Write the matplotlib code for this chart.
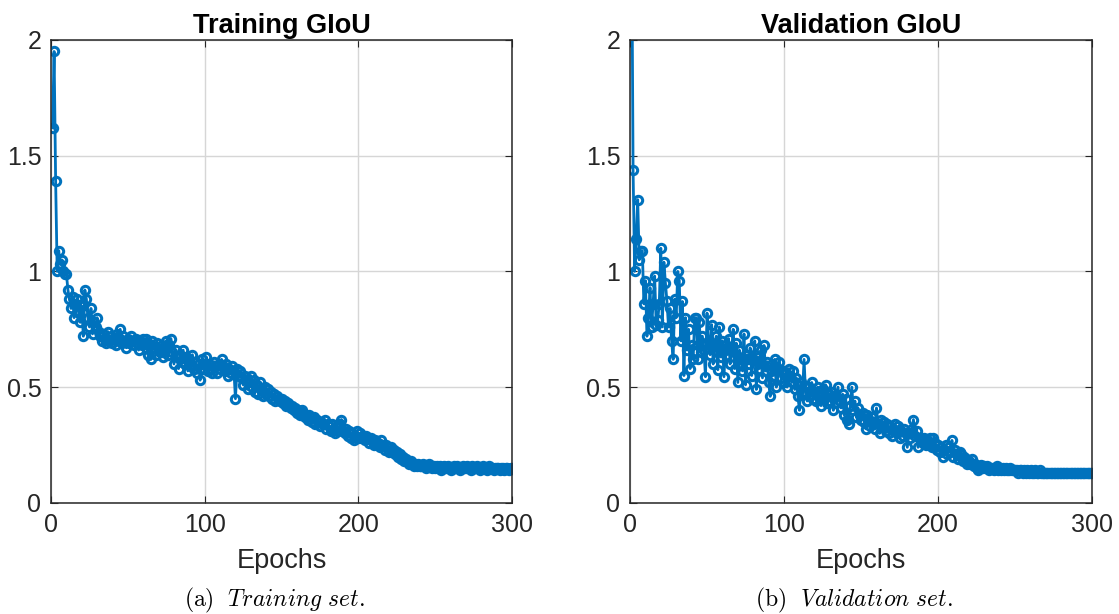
import numpy as np
import matplotlib
matplotlib.use("Agg")
import matplotlib.pyplot as plt

plt.rcParams['font.family'] = ['Liberation Sans', 'DejaVu Sans']
plt.rcParams['mathtext.fontset'] = 'cm'

# --- datos (GIoU por época) ---
train_giou = [
    1.62, 1.95, 1.39, 1.00, 1.09, 1.03, 1.05, 1.00, 0.99, 0.99,
    0.92, 0.88, 0.84, 0.89, 0.80, 0.86, 0.88, 0.82, 0.78, 0.85,
    0.72, 0.92, 0.88, 0.80, 0.76, 0.84, 0.73, 0.78, 0.76, 0.80,
    0.74, 0.72, 0.70, 0.73, 0.71, 0.69, 0.74, 0.70, 0.72, 0.69,
    0.71, 0.68, 0.73, 0.70, 0.75, 0.69, 0.72, 0.70, 0.67, 0.71,
    0.69, 0.72, 0.70, 0.68, 0.71, 0.69, 0.66, 0.70, 0.68, 0.71,
    0.69, 0.71, 0.64, 0.68, 0.62, 0.70, 0.67, 0.64, 0.69, 0.66,
    0.65, 0.68, 0.63, 0.66, 0.70, 0.64, 0.68, 0.71, 0.65, 0.60,
    0.66, 0.63, 0.58, 0.64, 0.61, 0.66, 0.60, 0.63, 0.57, 0.62,
    0.59, 0.64, 0.58, 0.61, 0.56, 0.60, 0.53, 0.62, 0.58, 0.60,
    0.63, 0.57, 0.60, 0.58, 0.56, 0.61, 0.59, 0.56, 0.60, 0.58,
    0.62, 0.59, 0.57, 0.60, 0.55, 0.58, 0.56, 0.59, 0.57, 0.45,
    0.58, 0.55, 0.57, 0.54, 0.51, 0.55, 0.53, 0.49, 0.52, 0.55,
    0.50, 0.53, 0.48, 0.51, 0.47, 0.52, 0.49, 0.46, 0.50, 0.47,
    0.49, 0.46, 0.48, 0.45, 0.47, 0.44, 0.46, 0.45, 0.44, 0.45,
    0.43, 0.44, 0.42, 0.43, 0.42, 0.41, 0.42, 0.40, 0.41, 0.39,
    0.40, 0.38, 0.40, 0.39, 0.37, 0.38, 0.36, 0.38, 0.37, 0.35,
    0.37, 0.34, 0.36, 0.35, 0.33, 0.35, 0.34, 0.36, 0.32, 0.34,
    0.33, 0.31, 0.34, 0.32, 0.30, 0.33, 0.31, 0.34, 0.36, 0.31,
    0.30, 0.32, 0.29, 0.31, 0.28, 0.30, 0.27, 0.29, 0.31, 0.28,
    0.30, 0.28, 0.29, 0.27, 0.29, 0.28, 0.26, 0.28, 0.27, 0.25,
    0.27, 0.25, 0.26, 0.24, 0.27, 0.25, 0.23, 0.25, 0.24, 0.22,
    0.24, 0.22, 0.23, 0.21, 0.22, 0.20, 0.21, 0.19, 0.20, 0.18,
    0.19, 0.18, 0.17, 0.18, 0.17, 0.16, 0.17, 0.16, 0.17, 0.16,
    0.16, 0.17, 0.16, 0.15, 0.16, 0.17, 0.16, 0.15, 0.16, 0.15,
    0.16, 0.15, 0.16, 0.14, 0.15, 0.16, 0.15, 0.16, 0.15, 0.14,
    0.15, 0.16, 0.15, 0.16, 0.15, 0.14, 0.15, 0.16, 0.15, 0.15,
    0.16, 0.15, 0.14, 0.16, 0.15, 0.15, 0.16, 0.15, 0.14, 0.15,
    0.16, 0.15, 0.15, 0.14, 0.16, 0.15, 0.15, 0.14, 0.15, 0.15,
    0.15, 0.14, 0.15, 0.15, 0.14, 0.15, 0.15, 0.14, 0.15, 0.15,
]

val_giou = [
    2.60, 1.44, 1.00, 1.14, 1.31, 1.05, 1.09, 1.09, 0.86, 0.96,
    0.72, 0.80, 0.93, 0.76, 0.86, 0.98, 0.77, 0.79, 0.86, 1.10,
    0.76, 1.04, 0.95, 0.87, 0.76, 0.84, 0.70, 0.62, 0.88, 0.80,
    1.00, 0.96, 0.70, 0.87, 0.55, 0.80, 0.66, 0.75, 0.58, 0.68,
    0.62, 0.80, 0.80, 0.62, 0.78, 0.65, 0.72, 0.66, 0.545, 0.82,
    0.70, 0.64, 0.77, 0.60, 0.68, 0.72, 0.575, 0.76, 0.63, 0.70,
    0.545, 0.68, 0.64, 0.71, 0.60, 0.66, 0.75, 0.58, 0.69, 0.52,
    0.66, 0.62, 0.57, 0.73, 0.51, 0.64, 0.60, 0.67, 0.55, 0.62,
    0.70, 0.49, 0.63, 0.58, 0.66, 0.54, 0.68, 0.57, 0.61, 0.52,
    0.46, 0.60, 0.55, 0.62, 0.50, 0.58, 0.61, 0.54, 0.57, 0.52,
    0.56, 0.50, 0.58, 0.55, 0.52, 0.57, 0.49, 0.54, 0.46, 0.40,
    0.52, 0.48, 0.62, 0.47, 0.44, 0.50, 0.46, 0.52, 0.45, 0.48,
    0.44, 0.50, 0.46, 0.42, 0.49, 0.45, 0.51, 0.43, 0.47, 0.44,
    0.48, 0.40, 0.46, 0.43, 0.50, 0.44, 0.41, 0.47, 0.38, 0.45,
    0.36, 0.34, 0.42, 0.50, 0.40, 0.44, 0.37, 0.41, 0.38, 0.36,
    0.39, 0.35, 0.32, 0.38, 0.36, 0.33, 0.37, 0.35, 0.32, 0.41,
    0.34, 0.30, 0.36, 0.33, 0.35, 0.31, 0.34, 0.30, 0.33, 0.29,
    0.32, 0.34, 0.30, 0.33, 0.28, 0.31, 0.29, 0.32, 0.30, 0.24,
    0.30, 0.28, 0.32, 0.36, 0.29, 0.31, 0.24, 0.28, 0.27, 0.26,
    0.28, 0.25, 0.27, 0.25, 0.28, 0.24, 0.28, 0.26, 0.23, 0.25,
    0.22, 0.24, 0.20, 0.23, 0.25, 0.21, 0.24, 0.22, 0.27, 0.20,
    0.23, 0.21, 0.19, 0.22, 0.21, 0.18, 0.20, 0.19, 0.17, 0.18,
    0.17, 0.19, 0.16, 0.17, 0.15, 0.14, 0.16, 0.165, 0.15, 0.16,
    0.15, 0.16, 0.14, 0.15, 0.15, 0.14, 0.15, 0.16, 0.14, 0.15,
    0.14, 0.15, 0.14, 0.15, 0.14, 0.14, 0.15, 0.14, 0.14, 0.14,
    0.14, 0.13, 0.14, 0.14, 0.13, 0.14, 0.13, 0.14, 0.13, 0.14,
    0.13, 0.13, 0.14, 0.13, 0.13, 0.14, 0.13, 0.13, 0.13, 0.13,
    0.13, 0.13, 0.13, 0.13, 0.13, 0.13, 0.13, 0.13, 0.13, 0.13,
    0.13, 0.13, 0.13, 0.13, 0.13, 0.13, 0.13, 0.13, 0.13, 0.13,
    0.13, 0.13, 0.13, 0.13, 0.13, 0.13, 0.13, 0.13, 0.13, 0.13,
]

titles = ['Training GIoU', 'Validation GIoU']
captions = [r'$\mathrm{(a)}\ \ \mathit{Training\ set.}$',
            r'$\mathrm{(b)}\ \ \mathit{Validation\ set.}$']
x_ticks = [0, 100, 200, 300]
y_ticks = [0, 0.5, 1, 1.5, 2]
y_ticklabels = ['0', '0.5', '1', '1.5', '2']

azul = '#0072BD'
gris = '#262626'

fig = plt.figure(figsize=(11.19, 6.14), dpi=100)
ax1 = fig.add_axes([0.0456, 0.181, 0.412, 0.754])
ax2 = fig.add_axes([0.563, 0.181, 0.413, 0.754])

for ax, serie, titulo, cap in zip([ax1, ax2], [train_giou, val_giou], titles, captions):
    epochs = np.arange(1, len(serie) + 1)
    ax.plot(epochs, serie, '-o', color=azul, lw=2, ms=6, mfc='none', mew=2.2)
    ax.set_xlim(0, 300)
    ax.set_ylim(0, 2)
    ax.set_xticks(x_ticks)
    ax.set_yticks(y_ticks)
    ax.set_yticklabels(y_ticklabels)
    ax.grid(True, color='#d6d6d6', lw=1)
    ax.set_axisbelow(True)
    ax.tick_params(direction='in', top=True, right=True, length=5, width=0.8,
                   colors=gris, labelsize=18, pad=7)
    for s in ax.spines.values():
        s.set_color(gris)
        s.set_linewidth(1.1)
    ax.set_title(titulo, fontsize=19.5, fontweight='bold', pad=5)
    ax.set_xlabel('Epochs', fontsize=19.5, color=gris, labelpad=8)
    ax.text(0.485, -0.21, cap, transform=ax.transAxes, ha='center', va='center',
            fontsize=17)

fig.savefig('out.png', dpi=100)
